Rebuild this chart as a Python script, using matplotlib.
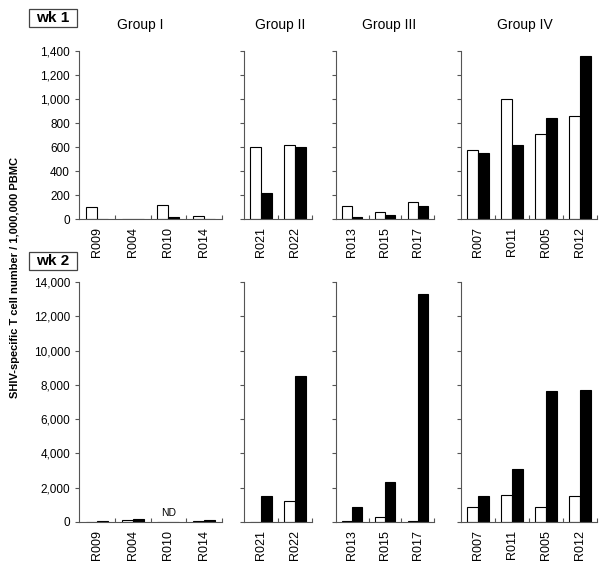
import numpy as np
import matplotlib.pyplot as plt
from matplotlib.patches import Rectangle
from matplotlib.ticker import FuncFormatter, FixedLocator

plt.rcParams['font.family'] = ['Liberation Sans', 'DejaVu Sans']

groups = ['Group I', 'Group II', 'Group III', 'Group IV']
group_sizes = [4, 2, 3, 4]
animals = ['R009', 'R004', 'R010', 'R014',
           'R021', 'R022',
           'R013', 'R015', 'R017',
           'R007', 'R011', 'R005', 'R012']

# open bars / filled bars, week 1
wk1_open = [100, 0, 115, 25, 600, 620, 105, 60, 140, 575, 1000, 710, 860]
wk1_filled = [0, 0, 20, 0, 220, 600, 20, 35, 110, 550, 620, 840, 1360]
# week 2 (R010 not determined)
wk2_open = [10, 100, np.nan, 30, 0, 1250, 50, 300, 30, 900, 1600, 850, 1500]
wk2_filled = [40, 150, np.nan, 120, 1500, 8500, 850, 2350, 13300, 1500, 3100, 7650, 7700]

W, H = 612, 571
fig = plt.figure(figsize=(W / 100, H / 100), dpi=100)

# panel x extents in pixels
xs = [(79, 222), (244, 312), (336, 434), (461, 597)]
title_x = [140, 280, 389, 525]
rows = [
    dict(data=(wk1_open, wk1_filled), ymax=1400, step=200, y0=219, y1=51, label='wk 1', box_y=9),
    dict(data=(wk2_open, wk2_filled), ymax=14000, step=2000, y0=522, y1=282, label='wk 2', box_y=252),
]

fmt = FuncFormatter(lambda v, p: f'{int(v):,}')
bw = 0.31
spine_col = '#555555'

for r, row in enumerate(rows):
    start = 0
    for g, n in enumerate(group_sizes):
        x0, x1 = xs[g]
        ax = fig.add_axes([x0 / W, 1 - row['y0'] / H, (x1 - x0) / W, (row['y0'] - row['y1']) / H])
        names = animals[start:start + n]
        op = row['data'][0][start:start + n]
        fi = row['data'][1][start:start + n]
        start += n
        pos = np.arange(n) + 0.5
        ax.bar(pos - bw / 2, np.nan_to_num(op), bw, color='white', edgecolor='black', linewidth=0.8)
        ax.bar(pos + bw / 2, np.nan_to_num(fi), bw, color='black', edgecolor='black', linewidth=0.8)
        for i, v in enumerate(op):
            if np.isnan(v):
                ax.text(pos[i], row['ymax'] * 0.015, 'ND', ha='center', va='bottom', fontsize=7.5)
        ax.set_xlim(0, n)
        ax.set_ylim(0, row['ymax'])
        ax.set_xticks(pos)
        ax.set_xticklabels(names, rotation=90, fontsize=9)
        ax.xaxis.set_minor_locator(FixedLocator(np.arange(1, n + 1)))
        ax.tick_params(axis='x', which='major', length=0, pad=6)
        ax.tick_params(axis='x', which='minor', direction='in', length=3, color=spine_col, width=0.8)
        ax.set_yticks(np.arange(0, row['ymax'] + 1, row['step']))
        ax.tick_params(axis='y', direction='out', length=3, color=spine_col, width=0.8, labelsize=8.5)
        ax.yaxis.set_major_formatter(fmt)
        if g > 0:
            ax.set_yticklabels([])
        for s in ['top', 'right']:
            ax.spines[s].set_visible(False)
        for s in ['left', 'bottom']:
            ax.spines[s].set_color(spine_col)
            ax.spines[s].set_linewidth(0.8)
        if r == 0:
            fig.text(title_x[g] / W, 1 - 25 / H, groups[g], ha='center', va='center', fontsize=10)
    # boxed week label
    bx, by, bwid, bh = 29, row['box_y'], 48, 18
    fig.patches.append(Rectangle((bx / W, 1 - (by + bh) / H), bwid / W, bh / H, transform=fig.transFigure,
                                 facecolor='white', edgecolor='#444444', linewidth=0.9))
    fig.text((bx + bwid / 2) / W, 1 - (by + bh / 2) / H, row['label'], ha='center', va='center',
             fontsize=11, fontweight='bold')

fig.text(15 / W, 1 - 278 / H, 'SHIV-specific T cell number / 1,000,000 PBMC', rotation=90,
         ha='center', va='center', fontsize=8, fontweight='bold')

fig.savefig('out.png', dpi=100)
